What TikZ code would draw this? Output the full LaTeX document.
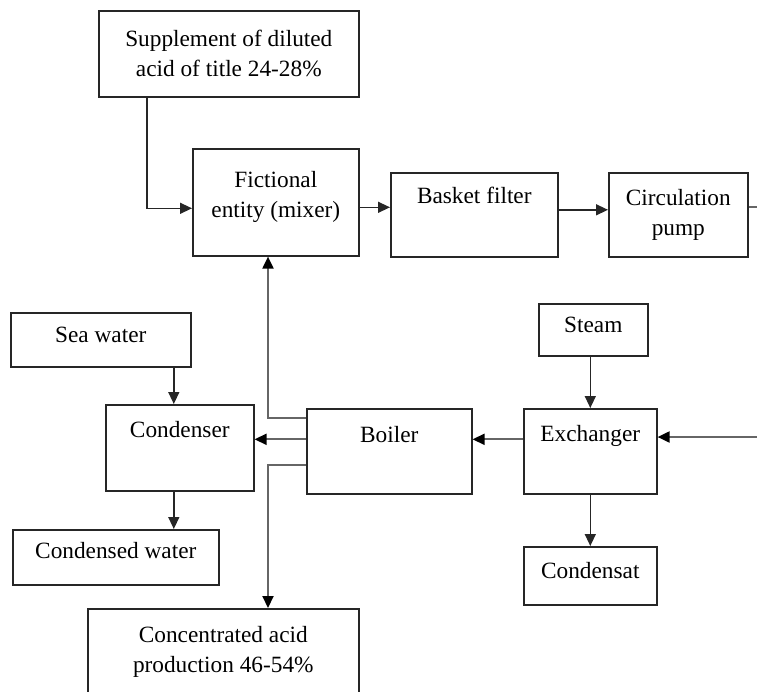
\documentclass[tikz,border=0pt]{standalone}
\usepackage{fontspec}
\setmainfont{Liberation Serif}
\usetikzlibrary{positioning,calc,arrows.meta}

\begin{document}
\begin{tikzpicture}[
    x=1pt, y=-1pt,
    every node/.style={font=\fontsize{23.3}{30}\selectfont},
    blk/.style={draw, line width=1.6pt, black!85, text=black, inner sep=0pt, anchor=north west},
    flow/.style={-{Triangle[length=12pt,width=11pt]}, line width=1.4pt, black!85},
    pipe/.style={-{Triangle[length=12pt,width=11pt,black]}, line width=2pt, black!60}
  ]
  \clip (0,0) rectangle (757,691);

  \node[blk, align=center, minimum width=260pt, minimum height=86pt] (supp) at (98,10)
    {Supplement of diluted\\acid of title 24-28\%};
  \node[blk, align=center, minimum width=166pt, minimum height=107pt] (mixer) at (192,148)
    {Fictional\\entity (mixer)\\[-14pt]};
  \node[blk, minimum width=167pt, text height=31pt, text depth=53pt] (basket) at (390,172)
    {Basket filter};
  \node[blk, align=center, minimum width=139pt, minimum height=84pt] (pump) at (608,172)
    {Circulation\\pump};

  \node[blk, minimum width=180pt, text height=30pt, text depth=24pt] (sea) at (10,312) {Sea water};
  \node[blk, minimum width=109pt, text height=29pt, text depth=23pt] (steam) at (538,303) {Steam};
  \node[blk, minimum width=148pt, text height=33pt, text depth=53pt] (cond) at (105,404) {Condenser};
  \node[blk, minimum width=165pt, text height=34pt, text depth=51pt] (boiler) at (306,408) {Boiler};
  \node[blk, minimum width=133pt, text height=33pt, text depth=52pt] (exch) at (523,408) {Exchanger};
  \node[blk, minimum width=206pt, text height=29pt, text depth=26pt] (water) at (12,529) {Condensed water};
  \node[blk, minimum width=133pt, text height=32pt, text depth=26pt] (condensat) at (523,546) {Condensat};
  \node[blk, align=center, minimum width=271pt, minimum height=86pt] (acid) at (87,608)
    {Concentrated acid\\production 46-54\%};

  \coordinate (out) at (757,207);
  \coordinate (in) at (757,437);
  \coordinate (riser) at (268,0);

  % top line
  \draw[flow] ([xshift=49pt]supp.south west) |- ([yshift=-6pt]mixer.west);
  \draw[flow] ([yshift=-5pt]mixer.east) -- ([yshift=-5pt]mixer.east -| basket.west);
  \draw[flow] ([yshift=5pt]basket.east) -- ([yshift=5pt]basket.east -| pump.west);
  \draw[pipe, -] (out -| pump.east) -- (out);

  % exchanger
  \draw[flow] (steam.south -| exch.north) -- (exch.north);
  \draw[pipe] (in) -- (in -| exch.east);
  \draw[flow] (exch.south) -- (condensat.north);
  \draw[pipe] ([yshift=12pt]exch.west) -- ([yshift=12pt]exch.west -| boiler.east);

  % condenser
  \draw[flow] ([xshift=-6pt]cond.north |- sea.south) -- ([xshift=-6pt]cond.north);
  \draw[flow] ([xshift=-6pt]cond.south) -- ([xshift=-6pt]cond.south |- water.north);

  % boiler outlets
  \draw[pipe] ([yshift=33pt]boiler.west) -| (riser |- mixer.south);
  \draw[pipe] ([yshift=12pt]boiler.west) -- ([yshift=12pt]boiler.west -| cond.east);
  \draw[pipe] ([yshift=-14pt]boiler.west) -| (riser |- acid.north);
\end{tikzpicture}
\end{document}
